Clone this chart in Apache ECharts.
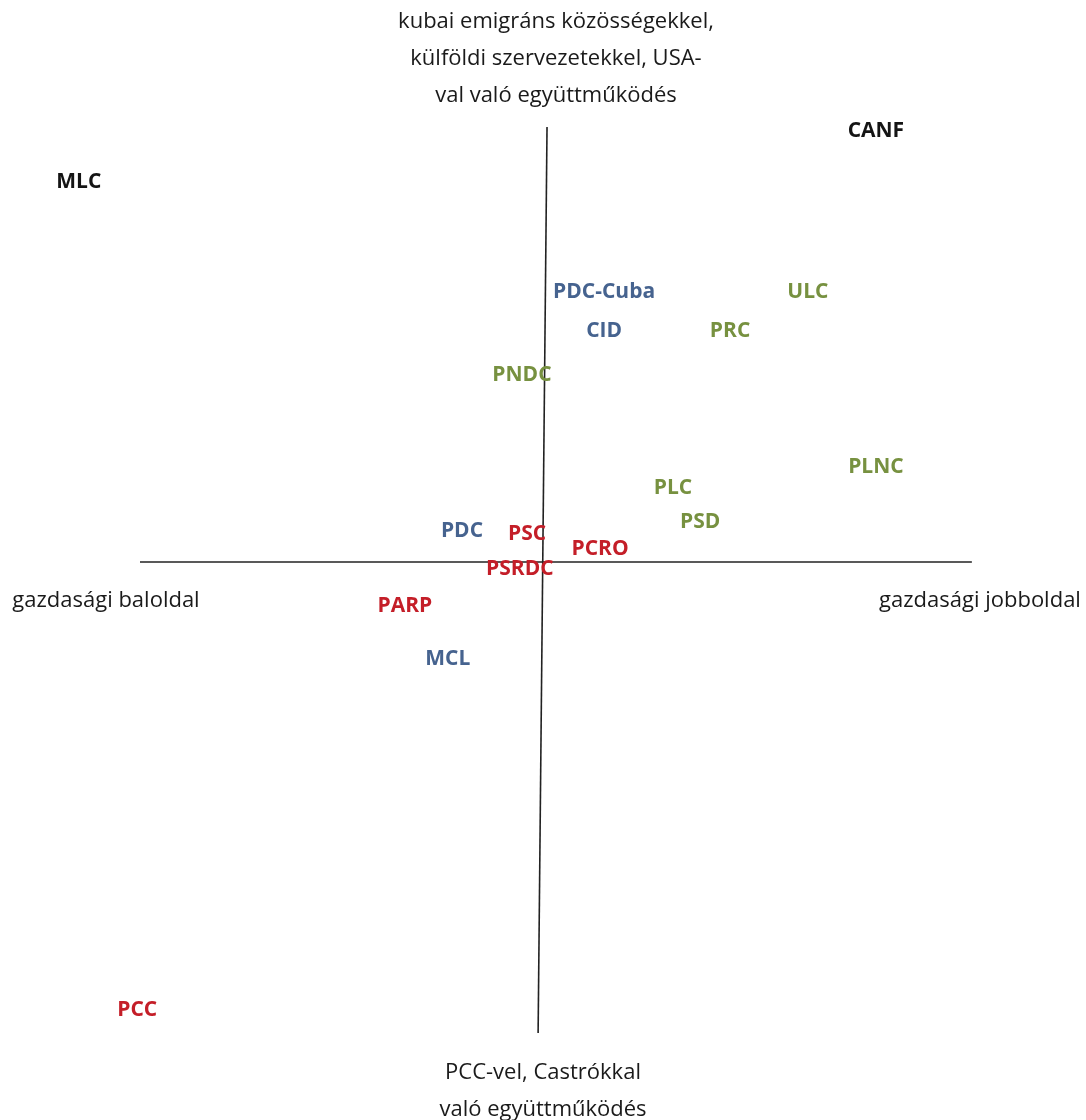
<!DOCTYPE html>
<html>
<head>
<meta charset="utf-8">
<script src="https://cdn.jsdelivr.net/npm/echarts@6/dist/echarts.min.js"></script>
<style>
  html, body { margin: 0; padding: 0; background: #ffffff; }
  #chart { width: 1086px; height: 1120px; }
</style>
</head>
<body>
<div id="chart"></div>
<script>
// ---- data ----
const parties = ['MLC', 'CANF', 'PDC-Cuba', 'ULC', 'CID', 'PRC', 'PNDC', 'PLNC', 'PLC', 'PSD', 'PDC', 'PSC', 'PCRO', 'PSRDC', 'PARP', 'MCL', 'PCC'];
// economic left (-) / right (+)
const econ = [-11.51, 8.17, 1.46, 6.49, 1.46, 4.57, -0.57, 8.17, 3.16, 3.83, -2.05, -0.44, 1.36, -0.62, -3.46, -2.40, -10.07];
// cooperation with PCC/Castros (-) / with emigrant communities, USA (+)
const coop = [9.38, 10.64, 6.67, 6.67, 5.70, 5.70, 4.62, 2.35, 1.83, 0.99, 0.77, 0.69, 0.32, -0.17, -1.09, -2.40, -11.06];
const groups = ['black', 'black', 'blue', 'green', 'blue', 'green', 'green', 'green', 'green', 'green', 'blue', 'red', 'red', 'red', 'red', 'blue', 'red'];

const groupNames = ['black', 'blue', 'green', 'red'];
const groupColors = { black: '#141414', blue: '#46638f', green: '#779140', red: '#c41e28' };

// axis line extents
const hAxisLine = [[-10.0, 0], [10.54, 0]];
const vAxisLine = [[0.05, 10.74], [-0.17, -11.63]];

// axis titles
const topTitle = 'kubai emigráns közösségekkel,\nkülföldi szervezetekkel, USA-\nval való együttműködés';
const bottomTitle = 'PCC-vel, Castrókkal\nvaló együttműködés';
const leftTitle = 'gazdasági baloldal';
const rightTitle = 'gazdasági jobboldal';

// ---- chart ----
const chart = echarts.init(document.getElementById('chart'), null, { renderer: 'canvas' });
const FONT = '"Open Sans", "DejaVu Sans", sans-serif';

const pointSeries = groupNames.map(g => ({
  type: 'scatter',
  name: g,
  symbol: 'circle',
  symbolSize: 2,
  itemStyle: { color: 'rgba(255,255,255,0)' },
  clip: false,
  silent: true,
  z: 5,
  label: {
    show: true,
    position: 'inside',
    align: 'center',
    verticalAlign: 'middle',
    offset: [0, 1.5],
    formatter: '{b}',
    color: groupColors[g],
    textBorderWidth: 0,
    textBorderColor: 'transparent',
    opacity: 1,
    fontFamily: FONT,
    fontWeight: 'bold',
    fontSize: 21
  },
  labelLayout: { hideOverlap: false },
  data: parties
    .map((n, i) => ({ name: n, value: [econ[i], coop[i]], g: groups[i] }))
    .filter(d => d.g === g)
    .map(d => ({ name: d.name, value: d.value }))
}));

const lineStyle = { color: '#222', width: 1.6 };

chart.setOption({
  animation: false,
  backgroundColor: '#ffffff',
  grid: { left: 0, right: 0, top: 0, bottom: 0 },
  xAxis: { type: 'value', min: -545 / 40.5, max: 541 / 40.5, show: false },
  yAxis: { type: 'value', min: -558 / 40.5, max: 562 / 40.5, show: false },
  series: [
    { type: 'line', data: hAxisLine, symbol: 'none', lineStyle: lineStyle, silent: true, z: 1 },
    { type: 'line', data: vAxisLine, symbol: 'none', lineStyle: lineStyle, silent: true, z: 1 }
  ].concat(pointSeries),
  graphic: [
    { type: 'text', x: 556, y: 3, style: { text: topTitle, font: '22px ' + FONT, fill: '#1a1a1a', align: 'center', verticalAlign: 'top', lineHeight: 37 } },
    { type: 'text', x: 543, y: 1054, style: { text: bottomTitle, font: '22px ' + FONT, fill: '#1a1a1a', align: 'center', verticalAlign: 'top', lineHeight: 37 } },
    { type: 'text', x: 106, y: 601, style: { text: leftTitle, font: '22px ' + FONT, fill: '#1a1a1a', align: 'center', verticalAlign: 'middle' } },
    { type: 'text', x: 980, y: 601, style: { text: rightTitle, font: '22px ' + FONT, fill: '#1a1a1a', align: 'center', verticalAlign: 'middle' } }
  ]
});
</script>
</body>
</html>
